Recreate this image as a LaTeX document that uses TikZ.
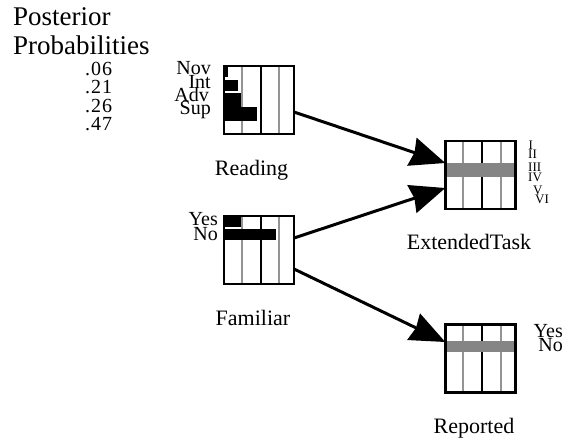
\documentclass[tikz,border=0pt]{standalone}
\usepackage{fontspec}
\setmainfont{Liberation Serif}
\usetikzlibrary{arrows.meta,calc}
\begin{document}
\begin{tikzpicture}[x=1pt,y=-1pt,
  netbox/.style={draw=black,line width=2.8pt,fill=white,minimum width=70pt,minimum height=68pt,inner sep=0pt,outer sep=0pt},
  gridgray/.style={draw=black!42,line width=2pt},
  gridblack/.style={draw=black,line width=2pt},
  bar/.style={fill=black},
  band/.style={fill=black!48},
  link/.style={line width=3pt,-{Stealth[length=35pt,width=29pt,inset=2.5pt]}},
  title/.style={font=\fontsize{27}{29}\selectfont,inner sep=0pt,anchor=base west},
  numlabel/.style={font=\fontsize{20}{20}\selectfont\addfontfeature{LetterSpace=5},inner sep=0pt,anchor=base west},
  catlabel/.style={font=\fontsize{20}{20}\selectfont,inner sep=0pt,anchor=base east},
  romlabel/.style={font=\fontsize{13}{13}\selectfont,inner sep=0pt,anchor=base west},
  varname/.style={font=\fontsize{22}{22}\selectfont,inner sep=0pt,anchor=base}]
\useasboundingbox (0,0) rectangle (573,445);

% heading and the posterior values
\node[title] (t1) at (13,25) {Posterior};
\node[title] (t2) at (13,54) {Probabilities};
\node[numlabel] (p1) at (85,75) {.06};
\node[numlabel] (p2) at (85,93.5) {.21};
\node[numlabel] (p3) at (85,112) {.26};
\node[numlabel] (p4) at (85,130) {.47};

% the four variable boxes
\node[netbox] (reading)  at (259,100) {};
\node[netbox] (familiar) at (259,250) {};
\node[netbox] (ext)      at (480.3,175) {};
\node[netbox] (reported) at (480.3,358.7) {};

% scale lines inside each box
\foreach \n in {reading,familiar,ext,reported}{
  \begin{scope}[shift={(\n.north west)}]
    \draw[gridgray]  (17.8,1.4) -- (17.8,66.6);
    \draw[gridblack] (36.7,1.4) -- (36.7,66.6);
    \draw[gridgray]  (55.4,1.4) -- (55.4,66.6);
  \end{scope}
}

% probability bars
\begin{scope}[shift={(reading.north west)}]
  \fill[bar] (0,0) rectangle (3.7,11);
  \fill[bar] (0,14) rectangle (13.7,25);
  \fill[bar] (0,27) rectangle (17,41);
  \fill[bar] (0,41) rectangle (32.7,55);
\end{scope}
\begin{scope}[shift={(familiar.north west)}]
  \fill[bar] (0,0) rectangle (16.5,10.7);
  \fill[bar] (0,13) rectangle (51.5,24);
\end{scope}
\begin{scope}[shift={(ext.north west)}]
  \fill[band] (1.4,21.7) rectangle (68.6,35.7);
\end{scope}
\begin{scope}[shift={(reported.north west)}]
  \fill[band] (1.4,16) rectangle (68.6,27);
\end{scope}

% state names
\node[catlabel] (rnov) at (211,74) {Nov};
\node[catlabel] (rint) at (211,88.5) {Int};
\node[catlabel] (radv) at (209,101) {Adv};
\node[catlabel] (rsup) at (211,114) {Sup};
\node[catlabel] (fyes) at (218,225) {Yes};
\node[catlabel] (fno)  at (218,240) {No};
\node[catlabel] (pyes) at (563,337.3) {Yes};
\node[catlabel] (pno)  at (563,351.7) {No};
\node[romlabel] (e1) at (528.3,149) {I};
\node[romlabel] (e2) at (528,158) {II};
\node[romlabel] (e3) at (528,171) {III};
\node[romlabel] (e4) at (528,181) {IV};
\node[romlabel] (e5) at (533,194) {V};
\node[romlabel] (e6) at (535,203) {VI};

% variable names
\node[varname] (lreading)  at (251.5,175) {Reading};
\node[varname] (lfamiliar) at (253,325) {Familiar};
\node[varname] (lext)      at (469,249) {ExtendedTask};
\node[varname] (lreported) at (474,433) {Reported};

% dependencies
\draw[link] ([yshift=-12pt]reading.east) -- ([yshift=12pt]ext.west);
\draw[link] ([yshift=12pt]familiar.east) -- ([yshift=-13pt]ext.west);
\draw[link] ([yshift=-19pt]familiar.east) -- ([yshift=16.7pt]reported.west);
\end{tikzpicture}
\end{document}
